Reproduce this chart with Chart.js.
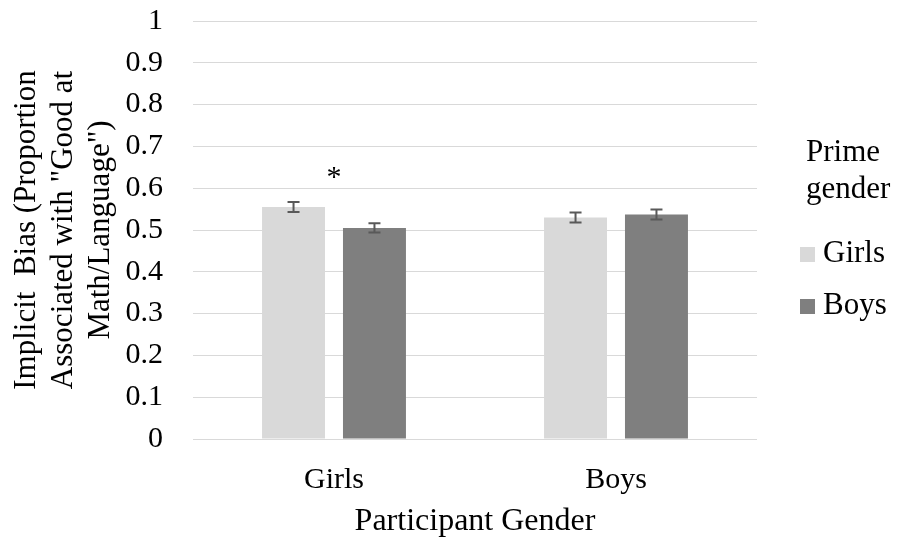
<!DOCTYPE html>
<html lang="en">
<head>
  <meta charset="UTF-8">
  <title>Implicit bias by participant gender</title>
  <script src="https://cdn.jsdelivr.net/npm/chart.js@4"></script>
  <style>
    html, body { margin: 0; padding: 0; background: #ffffff; }
    #wrap { width: 898px; height: 539px; position: relative; }
  </style>
</head>
<body>
  <div id="wrap"><canvas id="chart" width="898" height="539"></canvas></div>

  <script>
    // Chart data
    var categories = ["Girls", "Boys"];          // participant gender
    var primeNames = ["Girls", "Boys"];          // prime gender (legend)
    var girlsPrime = [0.555, 0.530];
    var boysPrime = [0.505, 0.537];
    var girlsPrimeErr = [0.012, 0.012];
    var boysPrimeErr = [0.011, 0.012];
    var sigMarks = ["*", ""];
    var yTickLabels = ["0", "0.1", "0.2", "0.3", "0.4", "0.5", "0.6", "0.7", "0.8", "0.9", "1"];

    var FONT = "'Liberation Serif', 'Times New Roman', serif";
    var LIGHT = "#d9d9d9";
    var DARK = "#7f7f7f";

    /* Error bars and significance marks */
    var errorBarPlugin = {
      id: "errorBars",
      afterDatasetsDraw: function(chart) {
        var ctx = chart.ctx;
        var yScale = chart.scales.y;
        var xScale = chart.scales.x;
        ctx.save();
        ctx.strokeStyle = "#595959";
        ctx.lineWidth = 2;
        var tops = [];
        chart.data.datasets.forEach(function(ds, di) {
          var meta = chart.getDatasetMeta(di);
          meta.data.forEach(function(bar, i) {
            var v = ds.data[i], e = ds.errors[i];
            var yTop = yScale.getPixelForValue(v + e);
            var yBot = yScale.getPixelForValue(v - e);
            var half = 6;
            ctx.beginPath();
            ctx.moveTo(bar.x, yTop); ctx.lineTo(bar.x, yBot);
            ctx.moveTo(bar.x - half, yTop); ctx.lineTo(bar.x + half, yTop);
            ctx.moveTo(bar.x - half, yBot); ctx.lineTo(bar.x + half, yBot);
            ctx.stroke();
            tops[i] = (tops[i] === undefined) ? yTop : Math.min(tops[i], yTop);
          });
        });
        // significance asterisks over the group
        ctx.fillStyle = "#000000";
        ctx.font = "30px " + FONT;
        ctx.textAlign = "center";
        ctx.textBaseline = "alphabetic";
        sigMarks.forEach(function(m, i) {
          if (m) {
            ctx.fillText(m, xScale.getPixelForValue(i), tops[i] - 16);
          }
        });
        ctx.restore();
      }
    };

    /* Legend with a two-line title on the right */
    var legendPlugin = {
      id: "sideLegend",
      afterDraw: function(chart) {
        var ctx = chart.ctx;
        var area = chart.chartArea;
        var left = area.right + 49;
        ctx.save();
        ctx.fillStyle = "#000000";
        ctx.font = "31px " + FONT;
        ctx.textAlign = "left";
        ctx.textBaseline = "alphabetic";
        ctx.fillText("Prime", left, 161);
        ctx.fillText("gender", left, 198);
        var baselines = [262, 314];
        chart.data.datasets.forEach(function(ds, di) {
          ctx.fillStyle = ds.backgroundColor;
          ctx.fillRect(left - 6, baselines[di] - 15, 15, 15);
          ctx.fillStyle = "#000000";
          ctx.fillText(ds.label, left + 17, baselines[di]);
        });
        ctx.restore();
      }
    };

    var chart = new Chart(document.getElementById("chart"), {
      type: "bar",
      data: {
        labels: categories,
        datasets: [
          { label: primeNames[0], data: girlsPrime, errors: girlsPrimeErr, backgroundColor: LIGHT },
          { label: primeNames[1], data: boysPrime, errors: boysPrimeErr, backgroundColor: DARK }
        ]
      },
      options: {
        responsive: false,
        animation: false,
        devicePixelRatio: 1,
        categoryPercentage: 0.574,
        barPercentage: 0.778,
        layout: { padding: { left: 8, right: 141, top: 21, bottom: 0 } },
        plugins: {
          legend: { display: false },
          tooltip: { enabled: false }
        },
        scales: {
          x: {
            grid: { display: false },
            border: { display: false },
            ticks: { color: "#000000", padding: 15, font: { family: FONT, size: 30 } },
            title: {
              display: true,
              text: "Participant Gender",
              color: "#000000",
              padding: { top: 0, bottom: 0 },
              font: { family: FONT, size: 32, lineHeight: 1.1 }
            },
            afterFit: function(scale) { scale.height = 100; }
          },
          y: {
            min: 0,
            max: 1,
            border: { display: false },
            grid: { color: "#d9d9d9", lineWidth: 1, drawTicks: true, tickLength: 27, tickColor: "rgba(0,0,0,0)" },
            ticks: {
              stepSize: 0.1,
              padding: 3,
              color: "#000000",
              font: { family: FONT, size: 30 },
              callback: function(value, index) { return yTickLabels[index]; }
            },
            title: {
              display: true,
              text: ["Implicit  Bias (Proportion", "Associated with \"Good at", "Math/Language\")"],
              color: "#000000",
              padding: { top: 0, bottom: 0 },
              font: { family: FONT, size: 31, lineHeight: 1.2 }
            },
            afterFit: function(scale) { scale.width = 185; }
          }
        }
      },
      plugins: [errorBarPlugin, legendPlugin]
    });
  </script>
</body>
</html>
